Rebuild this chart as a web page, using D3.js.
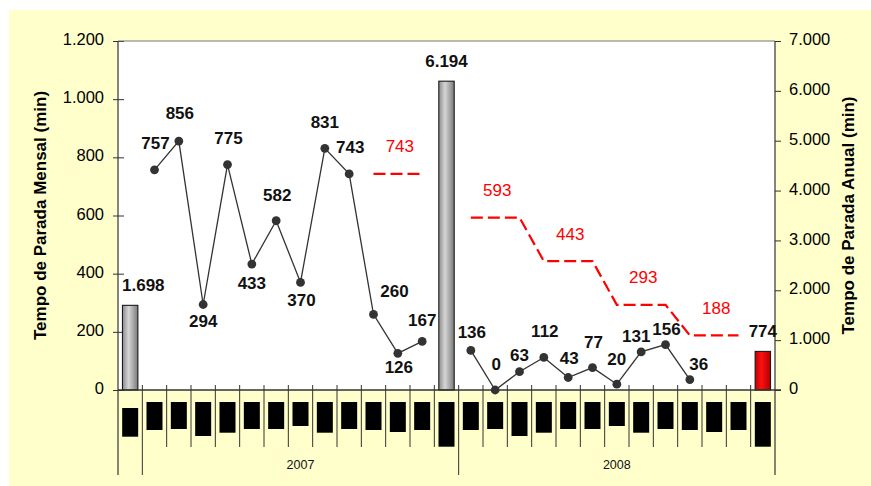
<!DOCTYPE html>
<html>
<head>
<meta charset="utf-8">
<script src="https://cdn.jsdelivr.net/npm/d3@7"></script>
<style>
  html, body { margin: 0; padding: 0; background: #ffffff; }
  svg { display: block; font-family: "Liberation Sans", Arial, sans-serif; }
</style>
</head>
<body>
<svg id="chart" width="871" height="486"></svg>
<script>
// ---- data ----
const months = ["jan", "fev", "mar", "abr", "mai", "jun", "jul", "ago", "set", "out", "nov", "dez"];
const yearGroups = ["2007", "2008"];
const annualCategories = ["2006", "2007", "2008"];
const annualTotals = [1698, 6194, 774];
const monthly2007 = [757, 856, 294, 775, 433, 582, 370, 831, 743, 260, 126, 167];
const monthly2008 = [136, 0, 63, 112, 43, 77, 20, 131, 156, 36, null, null];
const target2007 = [null, null, null, null, null, null, null, null, null, 743, 743, 743];
const target2008 = [593, 593, 593, 443, 443, 443, 293, 293, 293, 188, 188, 188];
const leftTicks = [0, 200, 400, 600, 800, 1000, 1200];
const rightTicks = [0, 1000, 2000, 3000, 4000, 5000, 6000, 7000];
const leftTitle = "Tempo de Parada Mensal (min)";
const rightTitle = "Tempo de Parada Anual (min)";

// ---- category rows: 2006 total | 2007 months + total | 2008 months + total ----
const rows = [];
rows.push({ key: annualCategories[0], group: null, total: annualTotals[0], monthly: null, target: null });
[[monthly2007, target2007], [monthly2008, target2008]].forEach(([vals, tgt], gi) => {
  months.forEach((m, i) => {
    rows.push({ key: m + "/" + yearGroups[gi], group: yearGroups[gi], total: null, monthly: vals[i], target: tgt[i], mi: i });
  });
  rows.push({ key: annualCategories[gi + 1], group: yearGroups[gi], total: annualTotals[gi + 1], monthly: null, target: null });
});

// ---- layout ----
const W = 871, H = 486;
const plot = { left: 118, right: 775, top: 41, bottom: 390 };
const axisColor = "#333333";

// value-label nudges relative to each point (text baseline, anchor middle)
const labelNudge2007 = [[1, -21], [1, -22], [0, 23], [1, -21], [0, 25], [1, -20], [1, 24], [0, -20], [1, -21], [21, -17], [1, 20], [0, -15]];
const labelNudge2008 = [[1, -12], [1, -20], [0, -11], [1, -20], [1, -13], [1, -20], [0, -19], [-5, -10], [1, -10], [9, -10], [0, 0], [0, 0]];
// hidden-label block lengths under each category
const maskLen = [28.7, 28, 27, 34, 30.7, 27, 27, 24, 30.7, 27, 28, 30, 28, 44.7, 28, 27, 34, 30.7, 27, 27, 24, 30.7, 27, 28, 30, 28, 44.7];

const svg = d3.select("#chart");
const br = d3.formatLocale({ decimal: ",", thousands: ".", grouping: [3], currency: ["R$", ""] });
const fmt = br.format(",d");

// background
svg.append("rect").attr("x", 9).attr("y", 10).attr("width", W - 9).attr("height", H - 10).attr("fill", "#FFFFCC");
svg.append("rect").attr("x", plot.left).attr("y", plot.top)
  .attr("width", plot.right - plot.left).attr("height", plot.bottom - plot.top).attr("fill", "#ffffff");

// gradients for the annual bars
const defs = svg.append("defs");
function grad(id, stops) {
  const g = defs.append("linearGradient").attr("id", id).attr("x1", "0%").attr("x2", "100%").attr("y1", "0%").attr("y2", "0%");
  stops.forEach(([o, c]) => g.append("stop").attr("offset", o).attr("stop-color", c));
}
grad("gGray", [["0%", "#8c8c8c"], ["40%", "#d6d6d6"], ["100%", "#7a7a7a"]]);
grad("gRed", [["0%", "#c00000"], ["40%", "#ff1010"], ["100%", "#b00000"]]);

// scales
const x = d3.scaleBand().domain(rows.map(r => r.key)).range([plot.left, plot.right]).padding(0);
const yL = d3.scaleLinear().domain([0, 1200]).range([plot.bottom, plot.top]);
const yR = d3.scaleLinear().domain([0, 7000]).range([plot.bottom, plot.top]);
const cx = k => x(k) + x.bandwidth() / 2;

// ---- left axis ----
const gL = svg.append("g").attr("transform", `translate(${plot.left},0)`)
  .call(d3.axisLeft(yL).tickValues(leftTicks).tickFormat(fmt).tickSizeInner(5).tickSizeOuter(0).tickPadding(9));
gL.select(".domain").remove();
gL.selectAll(".tick line").attr("x1", 6).attr("stroke", axisColor);
gL.selectAll(".tick text").attr("font-size", 16.5).attr("fill", "#000").attr("dy", "0.22em")
  .attr("font-family", "'Liberation Sans', Arial, sans-serif");

// ---- right axis ----
const gR = svg.append("g").attr("transform", `translate(${plot.right},0)`)
  .call(d3.axisRight(yR).tickValues(rightTicks).tickFormat(fmt).tickSizeInner(6).tickSizeOuter(0).tickPadding(8));
gR.select(".domain").remove();
gR.selectAll(".tick line").attr("stroke", axisColor);
gR.selectAll(".tick text").attr("font-size", 16.5).attr("fill", "#000").attr("dy", "0.22em")
  .attr("font-family", "'Liberation Sans', Arial, sans-serif");

// ---- frame lines ----
const frame = svg.append("g").attr("stroke", axisColor).attr("stroke-width", 1.2).attr("fill", "none");
frame.append("line").attr("x1", plot.left).attr("x2", plot.right).attr("y1", plot.top).attr("y2", plot.top).attr("stroke", "#777");
frame.append("line").attr("x1", plot.left).attr("x2", plot.left).attr("y1", plot.top).attr("y2", 475);
frame.append("line").attr("x1", plot.right).attr("x2", plot.right).attr("y1", plot.top).attr("y2", 475);

// ---- category axis ----
const gX = svg.append("g");
rows.forEach((r, i) => {
  const bx = x(r.key);
  const groupStart = i === 0 || rows[i - 1].group !== r.group;
  if (i > 0) {
    gX.append("line").attr("x1", bx).attr("x2", bx).attr("y1", 385).attr("y2", groupStart ? 475 : 447)
      .attr("stroke", axisColor).attr("stroke-width", 1);
  }
  // blocked-out category label
  gX.append("rect").attr("x", cx(r.key) - 8).attr("y", i === 0 ? 408 : 402)
    .attr("width", 16).attr("height", maskLen[i]).attr("fill", "#000");
});
yearGroups.forEach(yg => {
  const keys = rows.filter(r => r.group === yg).map(r => r.key);
  const x0 = x(keys[0]), x1 = x(keys[keys.length - 1]) + x.bandwidth();
  gX.append("text").attr("x", (x0 + x1) / 2).attr("y", 469).attr("text-anchor", "middle")
    .attr("font-size", 12.5).attr("fill", "#111").text(yg);
});

// ---- annual bars (right axis) ----
const barW = 15.4;
const barRows = rows.filter(r => r.total != null);
const gB = svg.append("g");
barRows.forEach((r, i) => {
  gB.append("rect").attr("x", cx(r.key) - barW / 2).attr("y", yR(r.total))
    .attr("width", barW).attr("height", yR(0) - yR(r.total))
    .attr("fill", i === barRows.length - 1 ? "url(#gRed)" : "url(#gGray)")
    .attr("stroke", "#1a1a1a").attr("stroke-width", 1.1);
  const t = gB.append("text").attr("x", cx(r.key)).attr("y", yR(r.total) - 14.5)
    .attr("text-anchor", "middle").attr("font-size", 17).attr("font-weight", "bold").attr("fill", "#111")
    .text(fmt(r.total));
  const bb = t.node().getBBox();
  if (bb.x < plot.left + 4) t.attr("x", cx(r.key) + (plot.left + 4 - bb.x));
});

// x-axis baseline
svg.append("line").attr("x1", plot.left).attr("x2", plot.right + 6).attr("y1", plot.bottom).attr("y2", plot.bottom)
  .attr("stroke", axisColor).attr("stroke-width", 1.4);

// ---- quarterly target (red dashed, left axis) ----
const gT = svg.append("g");
const targetLine = d3.line().defined(r => r.target != null).x(r => cx(r.key)).y(r => yL(r.target));
gT.append("path").datum(rows).attr("d", targetLine)
  .attr("fill", "none").attr("stroke", "#ff0000").attr("stroke-width", 2.2).attr("stroke-dasharray", "12,5");
// one label per flat run
let run = [];
rows.concat([{ target: null }]).forEach(r => {
  if (run.length && (r.target == null || r.target !== run[0].target)) {
    const mid = run[Math.floor(run.length / 2)];
    gT.append("text").attr("x", cx(mid.key) + 2).attr("y", yL(mid.target) - 21.5)
      .attr("text-anchor", "middle").attr("font-size", 17).attr("fill", "#ff0000").text(fmt(mid.target));
    run = [];
  }
  if (r.target != null) run.push(r);
});

// ---- monthly downtime (left axis) ----
const gM = svg.append("g");
const monthLine = d3.line().defined(r => r.monthly != null).x(r => cx(r.key)).y(r => yL(r.monthly));
gM.append("path").datum(rows).attr("d", monthLine)
  .attr("fill", "none").attr("stroke", "#333").attr("stroke-width", 1.3);
const pts = rows.filter(r => r.monthly != null);
gM.selectAll("circle").data(pts).join("circle")
  .attr("cx", r => cx(r.key)).attr("cy", r => yL(r.monthly)).attr("r", 4.4).attr("fill", "#333");
gM.selectAll("text").data(pts).join("text")
  .attr("x", r => cx(r.key) + (r.group === "2007" ? labelNudge2007 : labelNudge2008)[r.mi][0])
  .attr("y", r => yL(r.monthly) + (r.group === "2007" ? labelNudge2007 : labelNudge2008)[r.mi][1])
  .attr("text-anchor", "middle").attr("font-size", 17).attr("font-weight", "bold").attr("fill", "#111")
  .text(r => fmt(r.monthly));

// ---- axis titles ----
const midY = (plot.top + plot.bottom) / 2;
svg.append("text").attr("transform", `translate(46,${midY}) rotate(-90)`).attr("text-anchor", "middle")
  .attr("font-size", 17).attr("font-weight", "bold").attr("fill", "#000").text(leftTitle);
svg.append("text").attr("transform", `translate(854,${midY}) rotate(-90)`).attr("text-anchor", "middle")
  .attr("font-size", 17).attr("font-weight", "bold").attr("fill", "#000").text(rightTitle);
</script>
</body>
</html>
